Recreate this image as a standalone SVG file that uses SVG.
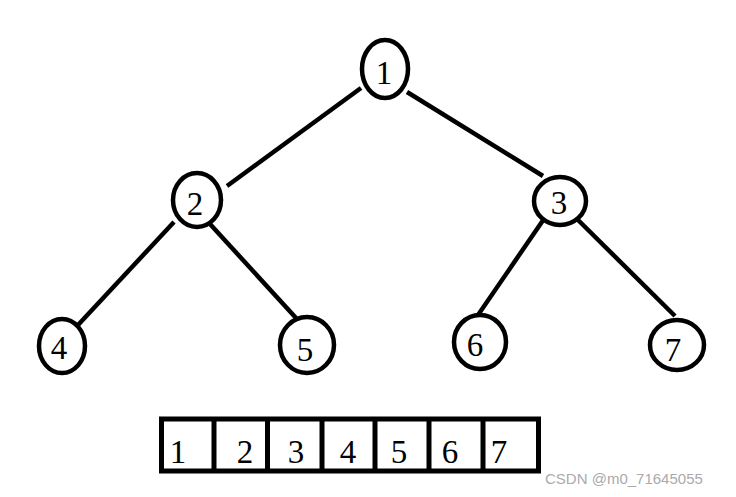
<svg xmlns="http://www.w3.org/2000/svg" width="736" height="497" viewBox="0 0 736 497">
<style>
.n{fill:#fff;stroke:#000;stroke-width:4.5}
.t{font-family:"Liberation Serif","DejaVu Serif",serif;font-size:33px;fill:#000;text-anchor:middle}
.e{stroke:#000;stroke-width:4.5;fill:none}
.w{font-family:"Liberation Sans",Arial,sans-serif;font-size:15px;fill:#aaa}
</style>
<rect width="736" height="497" fill="#fff"/>
<g id="edges">
<line class="e" x1="361" y1="88" x2="227" y2="186"/>
<line class="e" x1="407" y1="92" x2="543" y2="176"/>
<line class="e" x1="174" y1="222" x2="78" y2="325"/>
<line class="e" x1="210" y1="224" x2="296" y2="318"/>
<line class="e" x1="548" y1="213" x2="478" y2="315"/>
<line class="e" x1="573" y1="215" x2="675" y2="316"/>
</g>
<g id="node1"><ellipse class="n" cx="385" cy="69" rx="23" ry="29"/><text class="t" x="384" y="84">1</text></g>
<g id="node2"><ellipse class="n" cx="197" cy="200" rx="24" ry="27"/><text class="t" x="195" y="215">2</text></g>
<g id="node3"><ellipse class="n" cx="560" cy="201" rx="26" ry="24"/><text class="t" x="559" y="214">3</text></g>
<g id="node4"><ellipse class="n" cx="62" cy="346" rx="23" ry="27"/><text class="t" x="59" y="359">4</text></g>
<g id="node5"><ellipse class="n" cx="307" cy="345" rx="27" ry="28"/><text class="t" x="305" y="361">5</text></g>
<g id="node6"><ellipse class="n" cx="480" cy="342" rx="26" ry="27"/><text class="t" x="475" y="356">6</text></g>
<g id="node7"><ellipse class="n" cx="677" cy="345" rx="27" ry="25"/><text class="t" x="673" y="361">7</text></g>
<g id="array">
<rect x="161.5" y="419" width="377" height="52" fill="#fff" stroke="#000" stroke-width="5"/>
<g stroke="#000" stroke-width="5">
<line x1="214" y1="419" x2="214" y2="471"/>
<line x1="267.5" y1="419" x2="267.5" y2="471"/>
<line x1="322" y1="419" x2="322" y2="471"/>
<line x1="375" y1="419" x2="375" y2="471"/>
<line x1="429" y1="419" x2="429" y2="471"/>
<line x1="483" y1="419" x2="483" y2="471"/>
</g>
<text class="t" x="178" y="463">1</text>
<text class="t" x="245" y="463">2</text>
<text class="t" x="296" y="463">3</text>
<text class="t" x="348" y="463">4</text>
<text class="t" x="399" y="463">5</text>
<text class="t" x="450" y="463">6</text>
<text class="t" x="499" y="463">7</text>
</g>
<text class="w" x="545" y="484">CSDN @m0_71645055</text>
</svg>
